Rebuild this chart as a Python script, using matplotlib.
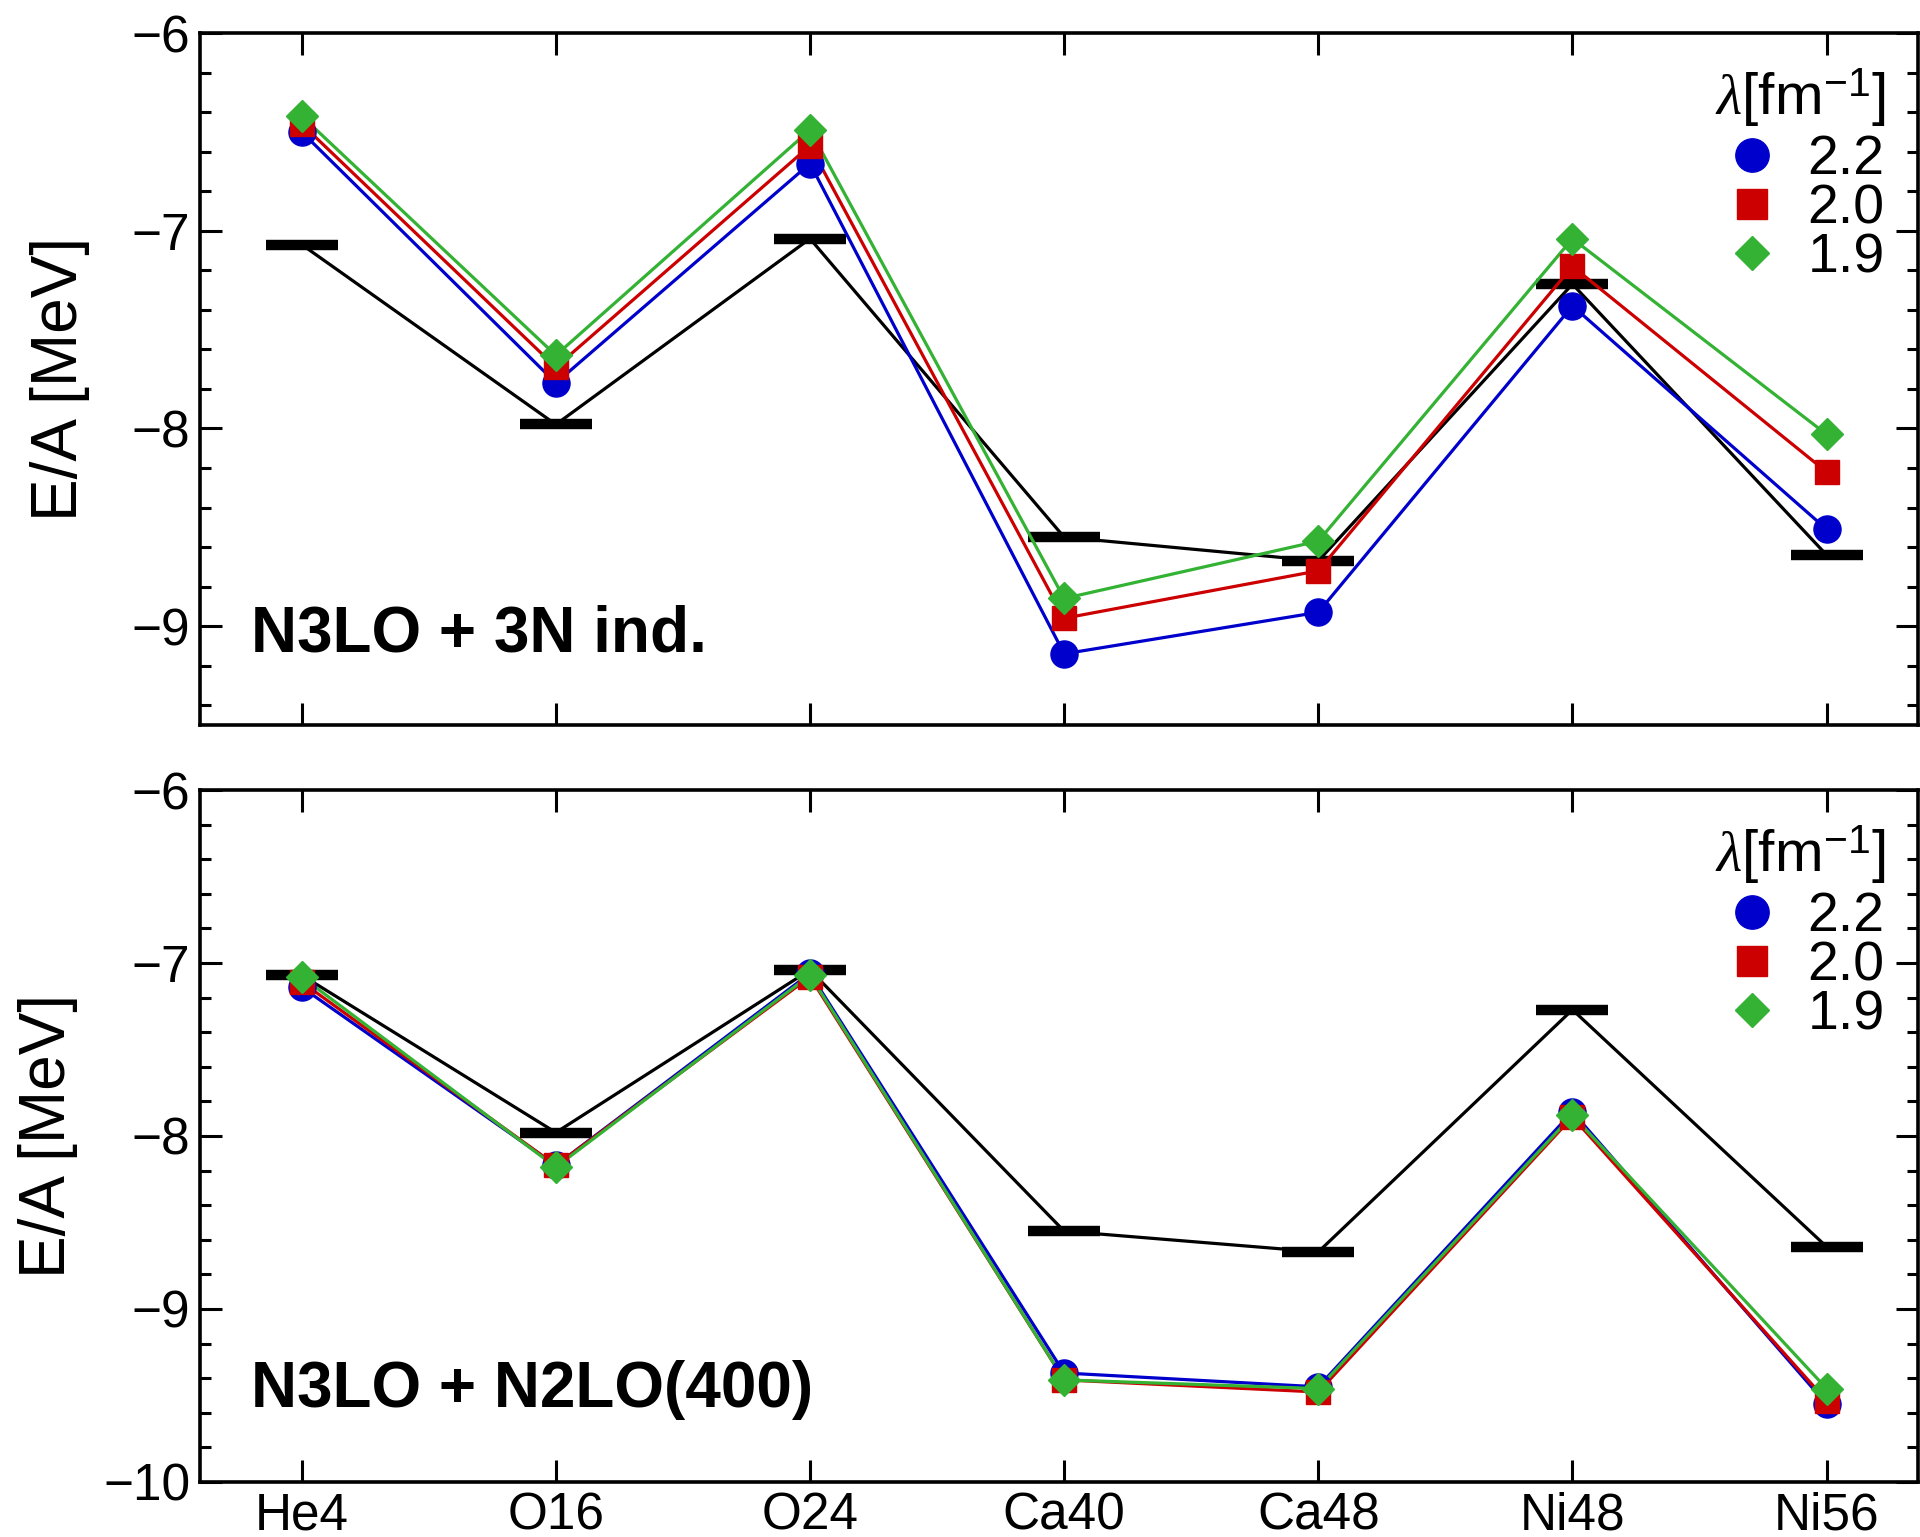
import matplotlib
matplotlib.use("Agg")
from matplotlib import pyplot as plt
from matplotlib.lines import Line2D
from matplotlib.ticker import MultipleLocator, FixedLocator

plt.rcParams['font.family'] = ['Liberation Sans', 'DejaVu Sans']
plt.rcParams['mathtext.fontset'] = 'custom'
plt.rcParams['mathtext.rm'] = 'Liberation Sans'
plt.rcParams['mathtext.it'] = 'Liberation Serif:italic'
plt.rcParams['mathtext.sf'] = 'Liberation Sans'

nuclei = ['He4', 'O16', 'O24', 'Ca40', 'Ca48', 'Ni48', 'Ni56']
lambdas = ['2.2', '2.0', '1.9']

# experiment
exp_vals = [-7.07, -7.98, -7.04, -8.55, -8.67, -7.27, -8.64]

# N3LO + 3N induced
top_22 = [-6.50, -7.77, -6.66, -9.14, -8.93, -7.38, -8.51]
top_20 = [-6.46, -7.69, -6.57, -8.96, -8.72, -7.18, -8.22]
top_19 = [-6.42, -7.63, -6.49, -8.86, -8.57, -7.04, -8.03]

# N3LO + N2LO(400)
bot_22 = [-7.14, -8.17, -7.06, -9.37, -9.45, -7.86, -9.55]
bot_20 = [-7.11, -8.17, -7.08, -9.41, -9.48, -7.89, -9.53]
bot_19 = [-7.08, -8.18, -7.07, -9.41, -9.46, -7.88, -9.46]

colors = ['#0000cc', '#cc0000', '#33b233']
markers = ['o', 's', 'D']
msizes = [19.5, 17.5, 16.8]
leg_sizes = [24, 21, 17]

x = list(range(len(nuclei)))

fig = plt.figure(figsize=(19.2, 15.37), dpi=100)
ax1 = fig.add_axes([0.1042, 0.5283, 0.8948, 0.4502])
ax2 = fig.add_axes([0.1042, 0.0358, 0.8948, 0.4502])


def draw_panel(ax, series, label, ylim, label_y, ylab_x):
    ax.plot(x, exp_vals, color='black', lw=2.3, zorder=2)
    ax.plot(x, exp_vals, ls='none', marker='_', ms=52, mew=7.5,
            color='black', zorder=3)
    for vals, c, m, s in zip(series, colors, markers, msizes):
        ax.plot(x, vals, color=c, lw=2.3, zorder=4)
        ax.plot(x, vals, ls='none', marker=m, ms=s, color=c,
                mec=c, zorder=5)
    ax.set_xlim(-0.4, 6.36)
    ax.set_ylim(*ylim)
    ax.xaxis.set_major_locator(FixedLocator(x))
    ax.yaxis.set_major_locator(MultipleLocator(1))
    ax.yaxis.set_minor_locator(MultipleLocator(0.2))
    ax.tick_params(which='both', direction='in', top=True, right=True,
                   labelsize=37, width=2.2, pad=7)
    ax.tick_params(which='major', length=16)
    ax.tick_params(which='minor', length=8)
    for sp in ax.spines.values():
        sp.set_linewidth(2.6)
    ax.set_ylabel('E/A [MeV]', fontsize=46)
    ax.yaxis.set_label_coords(ylab_x, 0.5)
    ax.text(-0.2, label_y, label, fontsize=46, fontweight='bold',
            va='center', ha='left')
    handles = [Line2D([], [], ls='none', marker=m, ms=s, color=c, mec=c)
               for m, s, c in zip(markers, leg_sizes, colors)]
    leg = ax.legend(handles, lambdas, loc='upper right', frameon=False,
                    fontsize=40, title=r'$\lambda$[fm$^{-1}$]',
                    title_fontsize=42, handletextpad=0.5,
                    labelspacing=-0.05, borderaxespad=0.15, borderpad=0.45,
                    handlelength=1.0)
    leg._legend_box.align = 'right'
    leg._legend_box.sep = 4


draw_panel(ax1, [top_22, top_20, top_19], 'N3LO + 3N ind.', (-9.5, -6),
           -9.04, -0.064)
draw_panel(ax2, [bot_22, bot_20, bot_19], 'N3LO + N2LO(400)', (-10, -6),
           -9.47, -0.071)

ax1.set_xticklabels([])
ax2.set_xticklabels(nuclei)

fig.savefig('out.png', dpi=100)
